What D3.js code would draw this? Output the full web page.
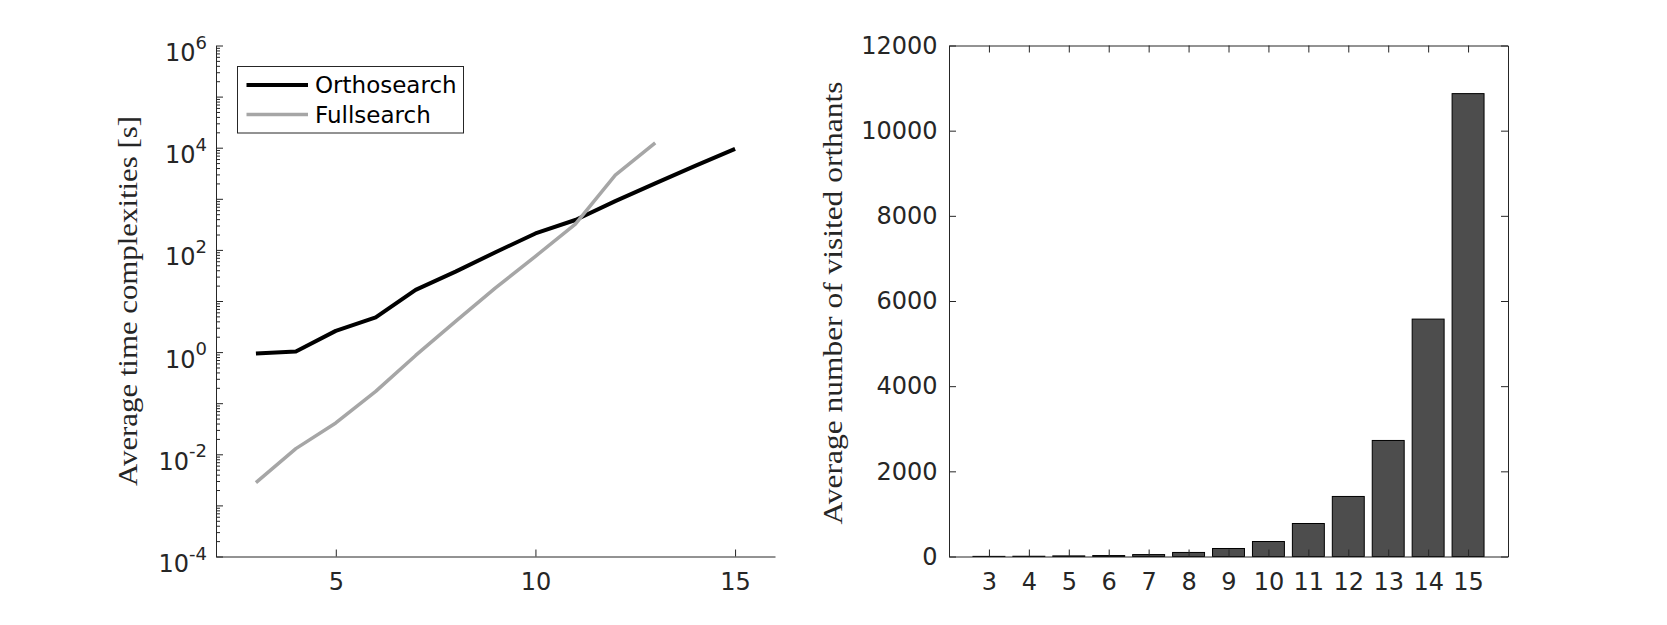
<!DOCTYPE html>
<html>
<head>
<meta charset="utf-8">
<script src="https://cdn.jsdelivr.net/npm/d3@7"></script>
<style>
  html, body { margin: 0; padding: 0; background: #fff; }
  svg { display: block; }
</style>
</head>
<body>
<script>
// ---------- data ----------
const orthoDims = [3, 4, 5, 6, 7, 8, 9, 10, 11, 12, 13, 14, 15];
const orthosearch = [0.94, 1.03, 2.6, 4.8, 16.5, 37.5, 90, 210, 385, 900, 2000, 4400, 9500];
const fullDims = [3, 4, 5, 6, 7, 8, 9, 10, 11, 12, 13];
const fullsearch = [0.0028, 0.0129, 0.041, 0.17, 0.86, 4.0, 18, 75, 320, 2900, 12400];
const seriesNames = ["Orthosearch", "Fullsearch"];
const leftXTicks = [5, 10, 15];
const leftYLabelExps = [-4, -2, 0, 2, 4, 6];

const barCategories = [3, 4, 5, 6, 7, 8, 9, 10, 11, 12, 13, 14, 15];
const orthants = [3, 6, 14, 22, 45, 95, 188, 352, 775, 1410, 2725, 5575, 10870];
const rightYTicks = [0, 2000, 4000, 6000, 8000, 10000, 12000];

const leftYTitle = "Average time complexities [s]";
const rightYTitle = "Average number of visited orthants";

// ---------- setup ----------
const W = 1667, H = 625;
const TXT = "#262626";
const tickFont = "'DejaVu Sans', sans-serif";
const serifFont = "'Liberation Serif', 'DejaVu Serif', serif";
const FS = 24;

const svg = d3.select("body").append("svg").attr("width", W).attr("height", H);
svg.append("rect").attr("width", W).attr("height", H).attr("fill", "#fff");

const yTop = 45.5, yBot = 556.5;

// ================= LEFT PLOT =================
const xL = d3.scaleLinear().domain([2, 16]).range([216, 775]);
const yL = d3.scaleLog().domain([1e-4, 1e6]).range([yBot, yTop]);

const gL = svg.append("g");

const lineGen = (xs) => d3.line()
  .x((d, i) => xL(xs[i]))
  .y(d => yL(d));

gL.append("path").datum(orthosearch)
  .attr("d", lineGen(orthoDims))
  .attr("fill", "none").attr("stroke", "#000").attr("stroke-width", 4)
  .attr("stroke-linejoin", "round");
gL.append("path").datum(fullsearch)
  .attr("d", lineGen(fullDims))
  .attr("fill", "none").attr("stroke", "#a6a6a6").attr("stroke-width", 3.5)
  .attr("stroke-linejoin", "round");

// y axis - decades
const decades = d3.range(-4, 7).map(e => Math.pow(10, e));
const minors = [];
for (let e = -4; e < 6; e++) for (let m = 2; m <= 9; m++) minors.push(m * Math.pow(10, e));

gL.append("g").attr("transform", "translate(216,0)")
  .style("color", TXT)
  .call(d3.axisLeft(yL).tickValues(decades).tickSize(-7).tickSizeOuter(0).tickFormat(""));
gL.append("g").attr("transform", "translate(216,0)")
  .style("color", TXT)
  .call(d3.axisLeft(yL).tickValues(minors).tickSize(-4).tickFormat(""))
  .select(".domain").remove();

// y labels 10^n
leftYLabelExps.forEach(e => {
  const y = yL(Math.pow(10, e));
  const t = gL.append("text")
    .attr("x", 207).attr("y", y + 15.5)
    .attr("text-anchor", "end")
    .attr("font-family", tickFont).attr("font-size", FS).attr("fill", TXT);
  t.append("tspan").text("10");
  t.append("tspan").attr("dy", -12.5).attr("font-size", 18).text(String(e));
});

// x axis
const xAxL = gL.append("g").attr("transform", `translate(0,${yBot})`)
  .style("color", TXT)
  .call(d3.axisBottom(xL).tickValues(leftXTicks).tickSize(-7).tickPadding(16).tickSizeOuter(0));
xAxL.selectAll("text").attr("font-family", tickFont).attr("font-size", FS).attr("fill", TXT);

// y title
gL.append("text")
  .attr("transform", `translate(137,${(yTop + yBot) / 2}) rotate(-90)`)
  .attr("text-anchor", "middle")
  .attr("font-family", serifFont).attr("font-size", 28).attr("fill", TXT)
  .attr("textLength", 370).attr("lengthAdjust", "spacingAndGlyphs")
  .text(leftYTitle);

// legend
const leg = gL.append("g");
leg.append("rect").attr("x", 237.5).attr("y", 66.5).attr("width", 226).attr("height", 66.5)
  .attr("fill", "#fff").attr("stroke", TXT).attr("stroke-width", 1);
const legColors = ["#000", "#a6a6a6"];
const legWidths = [4, 3.5];
seriesNames.forEach((name, i) => {
  const yy = 85 + i * 29.5;
  leg.append("line").attr("x1", 246.5).attr("x2", 308).attr("y1", yy).attr("y2", yy)
    .attr("stroke", legColors[i]).attr("stroke-width", legWidths[i]);
  leg.append("text").attr("x", 315).attr("y", yy + 8.2)
    .attr("font-family", tickFont).attr("font-size", 23).attr("fill", "#000")
    .text(name);
});

// ================= RIGHT PLOT =================
const xR = d3.scaleLinear().domain([2, 16]).range([949, 1508]);
const yR = d3.scaleLinear().domain([0, 12000]).range([yBot, yTop]);
const gR = svg.append("g");
const bw = xR(0.8) - xR(0);

gR.selectAll("rect.bar").data(orthants).enter().append("rect")
  .attr("class", "bar")
  .attr("x", (d, i) => xR(barCategories[i]) - bw / 2)
  .attr("y", d => yR(d))
  .attr("width", bw)
  .attr("height", d => yR(0) - yR(d))
  .attr("fill", "#4d4d4d").attr("stroke", "#000").attr("stroke-width", 1);

const axB = gR.append("g").attr("transform", `translate(0,${yBot})`).style("color", TXT)
  .call(d3.axisBottom(xR).tickValues(barCategories).tickSize(-7).tickPadding(16).tickSizeOuter(0).tickFormat(d3.format("d")));
axB.selectAll("text").attr("font-family", tickFont).attr("font-size", FS).attr("fill", TXT);
gR.append("g").attr("transform", `translate(0,${yTop})`).style("color", TXT)
  .call(d3.axisTop(xR).tickValues(barCategories).tickSize(-7).tickSizeOuter(0).tickFormat(""));
const axLft = gR.append("g").attr("transform", "translate(949,0)").style("color", TXT)
  .call(d3.axisLeft(yR).tickValues(rightYTicks).tickSize(-7).tickPadding(11.5).tickSizeOuter(0).tickFormat(d3.format("d")));
axLft.selectAll("text").attr("font-family", tickFont).attr("font-size", FS).attr("fill", TXT);
gR.append("g").attr("transform", "translate(1508,0)").style("color", TXT)
  .call(d3.axisRight(yR).tickValues(rightYTicks).tickSize(-7).tickSizeOuter(0).tickFormat(""));

gR.append("text")
  .attr("transform", `translate(842,${(yTop + yBot) / 2 + 2}) rotate(-90)`)
  .attr("text-anchor", "middle")
  .attr("font-family", serifFont).attr("font-size", 28).attr("fill", TXT)
  .attr("textLength", 443).attr("lengthAdjust", "spacingAndGlyphs")
  .text(rightYTitle);
</script>
</body>
</html>
